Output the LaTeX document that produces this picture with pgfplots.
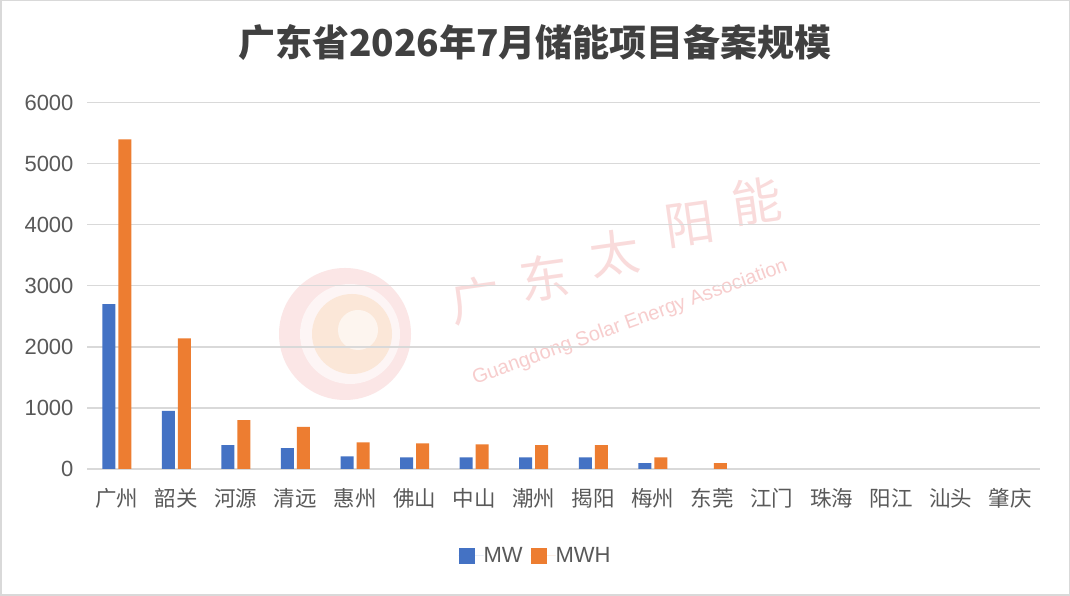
\documentclass[border=0pt]{standalone}
\usepackage{pgfplots}
\pgfplotsset{compat=1.18}
\usepackage{fontspec}
\setmainfont{Liberation Sans}
\newfontfamily\cjk{Noto Sans CJK SC}
\definecolor{mw}{HTML}{4472C4}
\definecolor{mwh}{HTML}{ED7D31}
\definecolor{gridc}{HTML}{D9D9D9}
\definecolor{txt}{HTML}{595959}
\definecolor{ttl}{HTML}{404040}
\definecolor{wm}{HTML}{F4B8B8}
\definecolor{wmo}{HTML}{FAD7B5}
\begin{document}
\begin{tikzpicture}[x=1pt,y=1pt]
\fill[white] (0,0) rectangle (1070,596);
% watermark
\fill[wm,opacity=0.35] (345,262) circle (66);
\fill[white,opacity=0.6] (350,262) circle (50);
\fill[wmo,opacity=0.45] (352,262) circle (40);
\fill[white,opacity=0.6] (358,266) circle (20);
\node[rotate=20,text=wm,opacity=0.7,font=\fontsize{20}{20}\selectfont] at (630,273) {Guangdong Solar Energy Association};
\begin{scope}[every node/.style={text=wm,opacity=0.5,font=\cjk\fontsize{50}{50}\selectfont,inner sep=0pt}]
\node[rotate=8] at (476,296) {广};
\node[rotate=8] at (545,318) {东};
\node[rotate=8] at (615,343) {太};
\node[rotate=8] at (690,372) {阳};
\node[rotate=8] at (757,395) {能};
\end{scope}
\begin{axis}[
  at={(87pt,127pt)}, anchor=south west,
  scale only axis, width=953pt, height=366.3pt,
  ybar, bar width=13pt,
  ymin=0, ymax=6000, ytick={0,1000,...,6000},
  xmin=-0.5, xmax=15.5, xtick={0,...,15},
  xticklabels={广州,韶关,河源,清远,惠州,佛山,中山,潮州,揭阳,梅州,东莞,江门,珠海,阳江,汕头,肇庆},
  axis line style={draw=none},
  major tick length=0pt,
  ymajorgrids, grid style={color=gridc, line width=1.3pt},
  /pgf/number format/assume math mode=true,
  /pgf/number format/1000 sep={},
  scaled y ticks=false,
  unbounded coords=discard,
  y filter/.expression={y==0 ? nan : y},
  yticklabel style={font=\fontsize{22}{22}\selectfont, text=txt, anchor=east, xshift=-10pt},
  xticklabel style={font=\cjk\fontsize{21.5}{22}\selectfont, text=txt, anchor=center, yshift=-29pt},
  legend style={at={(0.4696,-0.2375)}, anchor=center, draw=none, fill=none,
    legend columns=-1, font=\fontsize{22}{22}\selectfont, text=txt,
    /tikz/every odd column/.append style={column sep=0pt},
    /tikz/every even column/.append style={column sep=8pt},
    nodes={inner sep=0pt}},
  legend image code/.code={\fill[#1] (0pt,-8pt) rectangle (16pt,8pt); \path (0pt,0pt) -- (25pt,0pt);},
]
\addplot[fill=mw, draw=none, bar shift=-8pt] coordinates {
(0,2700) (1,950) (2,390) (3,340) (4,205) (5,190) (6,190) (7,190) (8,190) (9,95) (10,0) (11,0) (12,0) (13,0) (14,0) (15,0)};
\addplot[fill=mwh, draw=none, bar shift=8pt] coordinates {
(0,5400) (1,2140) (2,800) (3,690) (4,435) (5,420) (6,405) (7,390) (8,390) (9,190) (10,95) (11,0) (12,0) (13,0) (14,0) (15,0)};
\legend{MW, MWH}
\end{axis}
\node[font=\cjk\bfseries\fontsize{37}{37}\selectfont, text=ttl] at (535,553) {广东省2026年7月储能项目备案规模};
\draw[gridc, line width=1.5pt] (0.75,0.75) rectangle (1069.25,595.25);
\end{tikzpicture}
\end{document}
